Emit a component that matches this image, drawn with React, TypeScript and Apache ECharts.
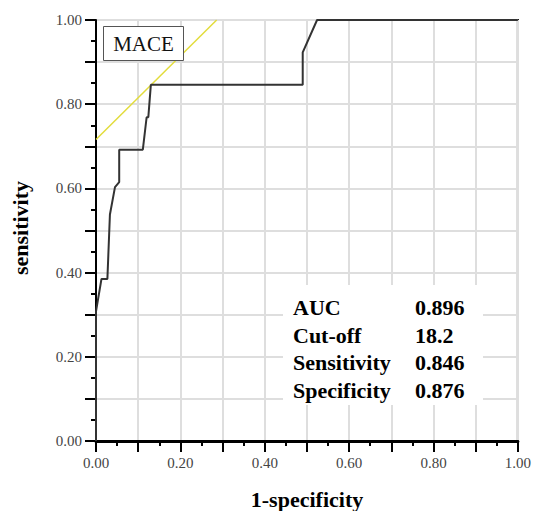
import React, { useEffect, useRef } from "react";
import * as echarts from "echarts";

const fprValues = [0, 0, 0.013, 0.027, 0.033, 0.045, 0.055, 0.055, 0.111, 0.12, 0.124, 0.13, 0.49, 0.49, 0.524, 1];
const tprValues = [0, 0.308, 0.385, 0.385, 0.538, 0.603, 0.615, 0.692, 0.692, 0.769, 0.769, 0.846, 0.846, 0.923, 1, 1];
const tangentX = [0, 0.286];
const tangentY = [0.716, 1];
const statLabels = ["AUC", "Cut-off", "Sensitivity", "Specificity"];
const statValues = ["0.896", "18.2", "0.846", "0.876"];
const panelTitle = "MACE";
const xTitle = "1-specificity";
const yTitle = "sensitivity";

const SERIF = "'Liberation Serif', 'Times New Roman', Times, serif";

export default function App() {
  const ref = useRef<HTMLDivElement>(null);
  useEffect(() => {
    if (!ref.current) return;
    const chart = echarts.init(ref.current, null, { renderer: "svg" });
    const fmt = (v: number) => {
      const k = Math.round(v * 10);
      return k % 2 === 0 ? v.toFixed(2) : "";
    };
    const axisCommon = {
      type: "value" as const,
      min: 0,
      max: 1,
      interval: 0.1,
      axisLine: { show: true, onZero: false, lineStyle: { color: "#000", width: 2 } },
      axisTick: { show: true, inside: false, length: 11, lineStyle: { color: "#000", width: 2 } },
      minorTick: { show: true, splitNumber: 2, length: 5, lineStyle: { color: "#000", width: 2 } },
      splitLine: { show: true, lineStyle: { color: "#dedede", width: 2 } },
      axisLabel: { formatter: fmt, fontFamily: SERIF, fontSize: 15, color: "#444", margin: 14 },
    };
    const rows = statLabels.map((s, i) => [
      {
        type: "text",
        x: 293,
        y: 307.5 + i * 27.5,
        style: { text: s, font: `bold 22px ${SERIF}`, fill: "#000", align: "left", verticalAlign: "middle" },
      },
      {
        type: "text",
        x: 415,
        y: 307.5 + i * 27.5,
        style: { text: statValues[i], font: `bold 22px ${SERIF}`, fill: "#000", align: "left", verticalAlign: "middle" },
      },
    ]).flat();
    chart.setOption({
      animation: false,
      backgroundColor: "#fff",
      grid: { left: 96, top: 20, width: 422, height: 421, show: true, borderColor: "#000", borderWidth: 2, backgroundColor: "transparent" },
      xAxis: [
        { ...axisCommon, position: "bottom" },
        {
          type: "value", min: 0, max: 1, position: "top",
          axisLine: { show: true, lineStyle: { color: "#000", width: 3 } },
          axisTick: { show: false }, axisLabel: { show: false }, splitLine: { show: false },
        },
      ],
      yAxis: [{ ...axisCommon, position: "left" }],
      series: [
        {
          type: "line",
          data: tangentX.map((x, i) => [x, tangentY[i]]),
          showSymbol: false,
          lineStyle: { color: "#e2dc3c", width: 1.5 },
          z: 3,
        },
        {
          type: "line",
          data: fprValues.map((x, i) => [x, tprValues[i]]),
          showSymbol: false,
          lineStyle: { color: "#333", width: 2 },
          z: 4,
        },
      ],
      graphic: [
        { type: "rect", shape: { x: 283, y: 285, width: 200, height: 120 }, style: { fill: "#fff" }, z: 10 },
        ...rows.map((r) => ({ ...r, z: 11 })),
        { type: "rect", shape: { x: 103.5, y: 26.5, width: 80, height: 34 }, style: { fill: "#fff", stroke: "#555", lineWidth: 1 }, z: 10 },
        {
          type: "text", x: 143.5, y: 44, z: 11,
          style: { text: panelTitle, font: `21px ${SERIF}`, fill: "#111", align: "center", verticalAlign: "middle" },
        },
        {
          type: "text", x: 307, y: 499, z: 11,
          style: { text: xTitle, font: `bold 22px ${SERIF}`, fill: "#000", align: "center", verticalAlign: "middle" },
        },
        {
          type: "text", x: 20, y: 228, rotation: Math.PI / 2, z: 11,
          style: { text: yTitle, font: `bold 22px ${SERIF}`, fill: "#000", align: "center", verticalAlign: "middle" },
        },
      ],
    });
    return () => chart.dispose();
  }, []);
  return <div ref={ref} style={{ position: "fixed", left: 0, top: 0, width: 534, height: 511 }} />;
}
